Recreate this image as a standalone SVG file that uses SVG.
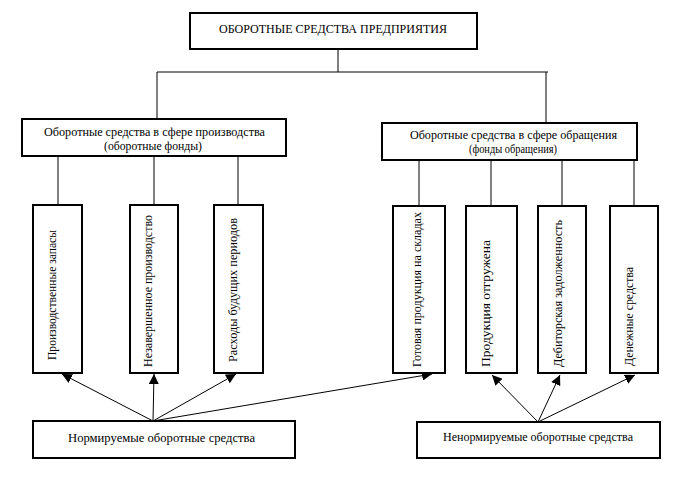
<svg xmlns="http://www.w3.org/2000/svg" width="685" height="484" viewBox="0 0 685 484">
<style>
.box{fill:#fff;stroke:#000;stroke-width:2}
.ln{stroke:#000;stroke-width:1;fill:none}
text{font-family:"Liberation Serif","Times New Roman",serif;font-size:13px;fill:#000}
.c{text-anchor:middle}
</style>
<defs>
<marker id="ah" markerUnits="userSpaceOnUse" markerWidth="10" markerHeight="10" viewBox="0 0 10 10" refX="10" refY="5" orient="auto">
<path d="M0,0 L10,5 L0,10 Z" fill="#000"/>
</marker>
</defs>
<rect width="685" height="484" fill="#fff"/>
<g id="connectors">
<path class="ln" d="M338,49 V72 M157,72 H548 M157,72 V119 M546,72 V123"/>
<path class="ln" d="M58,156 V205 M154,156 V205 M238,156 V205"/>
<path class="ln" d="M419,160 V206 M491,160 V206 M562,160 V206 M634,160 V206"/>
<g marker-end="url(#ah)">
<line class="ln" x1="153" y1="421" x2="62" y2="374"/>
<line class="ln" x1="153" y1="421" x2="154" y2="374"/>
<line class="ln" x1="153" y1="421" x2="236" y2="374"/>
<line class="ln" x1="153" y1="421" x2="432" y2="374"/>
<line class="ln" x1="538" y1="422" x2="492" y2="375"/>
<line class="ln" x1="538" y1="422" x2="560" y2="375"/>
<line class="ln" x1="538" y1="422" x2="635" y2="375"/>
</g>
</g>
<g id="root">
<rect class="box" x="190" y="13" width="287" height="36"/>
<text x="333" y="33" class="c" textLength="228" lengthAdjust="spacingAndGlyphs">ОБОРОТНЫЕ СРЕДСТВА ПРЕДПРИЯТИЯ</text>
</g>
<g id="prod">
<rect class="box" x="22" y="119" width="264" height="37"/>
<text x="154.5" y="136" class="c" textLength="221" lengthAdjust="spacingAndGlyphs">Оборотные средства в сфере производства</text>
<text x="153" y="150" class="c" textLength="98" lengthAdjust="spacingAndGlyphs">(оборотные фонды)</text>
</g>
<g id="circ">
<rect class="box" x="382" y="123" width="255" height="37"/>
<text x="513.5" y="139" class="c" textLength="207" lengthAdjust="spacingAndGlyphs">Оборотные средства в сфере обращения</text>
<text x="513" y="153" class="c" textLength="88" lengthAdjust="spacingAndGlyphs">(фонды обращения)</text>
</g>
<g id="b1">
<rect class="box" x="33" y="205" width="49" height="168"/>
<text transform="translate(56,360) rotate(-90)" textLength="130" lengthAdjust="spacingAndGlyphs">Производственные запасы</text>
</g>
<g id="b2">
<rect class="box" x="130" y="205" width="48" height="168"/>
<text transform="translate(152,367) rotate(-90)" textLength="152" lengthAdjust="spacingAndGlyphs">Незавершенное производство</text>
</g>
<g id="b3">
<rect class="box" x="214" y="205" width="49" height="168"/>
<text transform="translate(237,362) rotate(-90)" textLength="144" lengthAdjust="spacingAndGlyphs">Расходы будущих периодов</text>
</g>
<g id="b4">
<rect class="box" x="393" y="206" width="52" height="167"/>
<text transform="translate(421,367) rotate(-90)" textLength="155" lengthAdjust="spacingAndGlyphs">Готовая продукция на складах</text>
</g>
<g id="b5">
<rect class="box" x="466" y="206" width="51" height="167"/>
<text transform="translate(490,367) rotate(-90)" textLength="127" lengthAdjust="spacingAndGlyphs">Продукция отгружена</text>
</g>
<g id="b6">
<rect class="box" x="538" y="206" width="48" height="167"/>
<text transform="translate(562,367) rotate(-90)" textLength="147" lengthAdjust="spacingAndGlyphs">Дебиторская задолженность</text>
</g>
<g id="b7">
<rect class="box" x="610" y="206" width="48" height="167"/>
<text transform="translate(633,366) rotate(-90)" textLength="99" lengthAdjust="spacingAndGlyphs">Денежные средства</text>
</g>
<g id="norm">
<rect class="box" x="33" y="421" width="262" height="37"/>
<text x="161.5" y="442" class="c" textLength="187" lengthAdjust="spacingAndGlyphs">Нормируемые оборотные средства</text>
</g>
<g id="nonnorm">
<rect class="box" x="417" y="422" width="243" height="36"/>
<text x="538" y="441" class="c" textLength="190" lengthAdjust="spacingAndGlyphs">Ненормируемые оборотные средства</text>
</g>
</svg>
